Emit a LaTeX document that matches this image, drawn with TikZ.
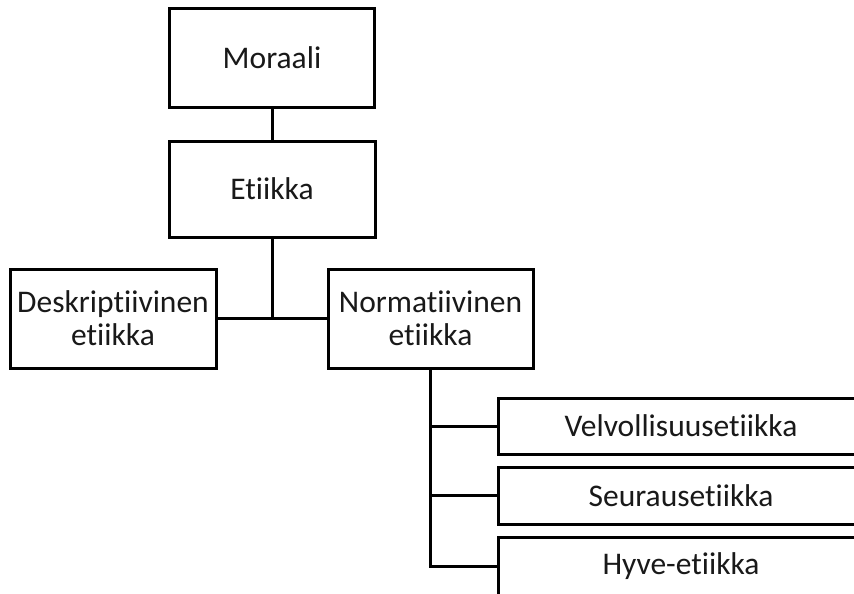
\documentclass[tikz,border=0pt]{standalone}
\usepackage{fontspec}
\setmainfont[Ligatures=NoCommon]{Carlito}
\begin{document}
\begin{tikzpicture}[x=1pt,y=-1pt,
  box/.style={draw=black,line width=3pt,rectangle,inner sep=0pt,align=center,
    font=\fontsize{31.5}{33}\selectfont,text=black!90},
  conn/.style={draw=black,line width=3pt}]
\clip (0,0) rectangle (854,594);
\fill[white] (0,0) rectangle (854,594);
\node[box,minimum width=205,minimum height=98] (mor) at (272,58) {Moraali};
\node[box,minimum width=206,minimum height=96] (eti) at (272,189) {Etiikka};
\node[box,minimum width=206,minimum height=99] (desk) at (113,318.5) {Deskriptiivinen\\etiikka};
\node[box,minimum width=205,minimum height=99] (norm) at (430.5,318.5) {Normatiivinen\\etiikka};
\node[box,minimum width=366,minimum height=56] (velv) at (681,426) {Velvollisuusetiikka};
\node[box,minimum width=366,minimum height=57] (seur) at (681,495.5) {Seurausetiikka};
\node[box,minimum width=366,minimum height=58] (hyve) at (681,566) {Hyve-etiikka};
\coordinate (j) at (eti.south |- desk.east);
\draw[conn] (mor.south) -- (eti.north);
\draw[conn] (eti.south) -- (j);
\draw[conn] (desk.east) -- (norm.west);
\draw[conn] (norm.south) |- (velv.west);
\draw[conn] (norm.south) |- (seur.west);
\draw[conn] (norm.south) |- (hyve.west);
\end{tikzpicture}
\end{document}
